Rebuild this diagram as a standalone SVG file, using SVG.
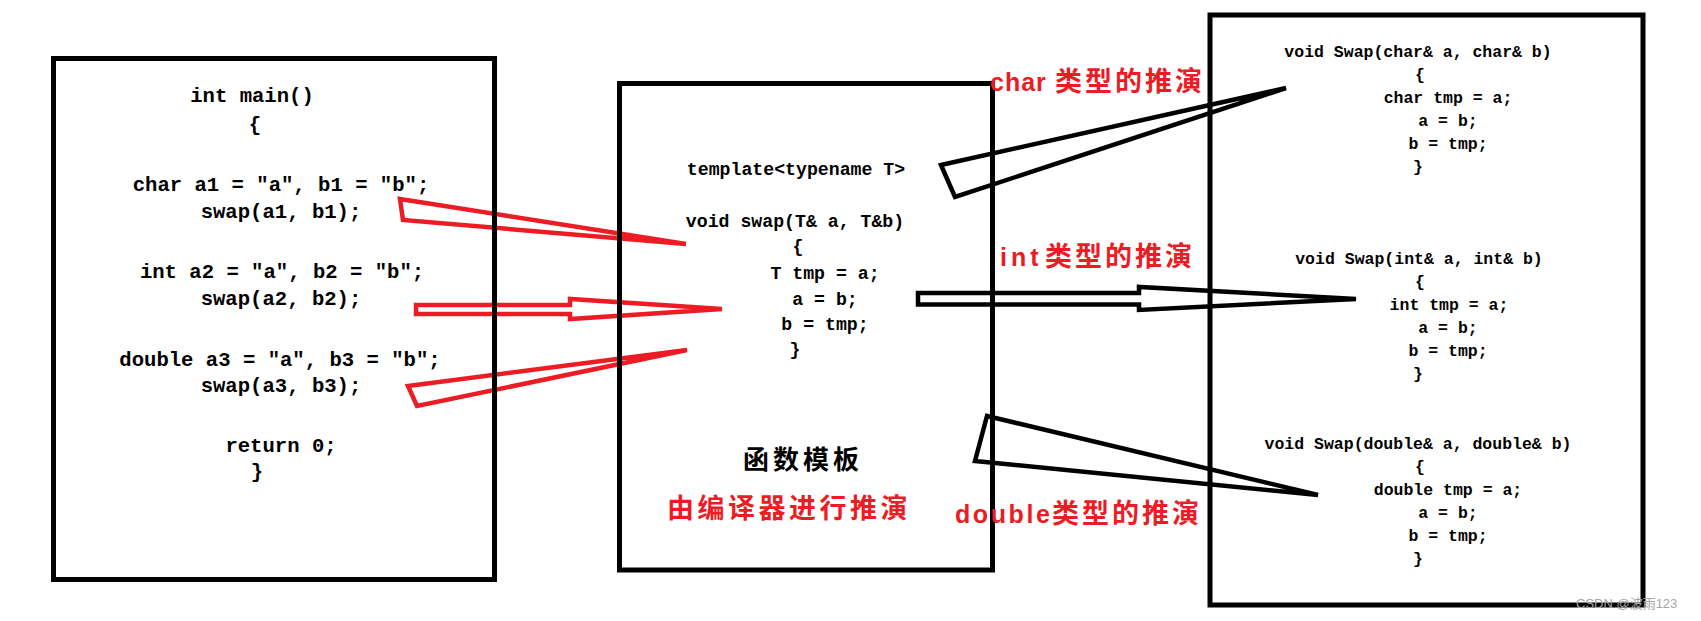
<svg xmlns="http://www.w3.org/2000/svg" width="1701" height="621" viewBox="0 0 1701 621">
<style>
.box{fill:none;stroke:#000;stroke-width:5}
.code{font-family:"Liberation Mono","DejaVu Sans Mono",monospace;font-weight:bold;fill:#000;text-anchor:middle}
.l{font-size:20.6px}
.m{font-size:18.2px}
.r{font-size:16.5px}
.red{fill:none;stroke:#ed1c24;stroke-width:4.5;stroke-linejoin:miter}
.blk{fill:none;stroke:#000;stroke-width:4.5;stroke-linejoin:miter}
.lab{font-family:"Liberation Sans","Noto Sans CJK SC",sans-serif;font-weight:bold;fill:#ed1c24}
.cjk{font-family:"Noto Sans CJK SC",sans-serif;font-weight:bold}
</style>
<rect width="1701" height="621" fill="#fff"/>
<g id="connectors">
<polygon class="red" points="400,199 686,244 403,220"/>
<polygon class="red" points="416,305 570,305 570,299 722,309 570,319 570,314 416,314"/>
<polygon class="red" points="408,386 687,350 417,406"/>
<polygon class="blk" points="941,165 1286,88 955,197"/>
<polygon class="blk" points="918,293 1139,293 1139,287 1356,299 1139,310 1139,304.5 918,304.5"/>
<polygon class="blk" points="987,416 1318,495 975,461"/>
</g>
<g id="main">
<rect class="box" x="53.5" y="58.5" width="441" height="521"/>
<text class="code l" x="252" y="102">int main()</text>
<text class="code l" x="255" y="131">{</text>
<text class="code l" x="281" y="191">char a1 = "a", b1 = "b";</text>
<text class="code l" x="281" y="218">swap(a1, b1);</text>
<text class="code l" x="282" y="278">int a2 = "a", b2 = "b";</text>
<text class="code l" x="281" y="305">swap(a2, b2);</text>
<text class="code l" x="280" y="366">double a3 = "a", b3 = "b";</text>
<text class="code l" x="281" y="392">swap(a3, b3);</text>
<text class="code l" x="281" y="452">return 0;</text>
<text class="code l" x="257" y="478">}</text>
</g>
<g id="template">
<rect class="box" x="619.5" y="83.5" width="373" height="486.5"/>
<text class="code m" x="796" y="175">template&lt;typename T&gt;</text>
<text class="code m" x="795" y="227">void swap(T&amp; a, T&amp;b)</text>
<text class="code m" x="798" y="252">{</text>
<text class="code m" x="825" y="279">T tmp = a;</text>
<text class="code m" x="825" y="305">a = b;</text>
<text class="code m" x="825" y="330">b = tmp;</text>
<text class="code m" x="795" y="355">}</text>
<text class="cjk" x="803" y="469" font-size="26" letter-spacing="4" text-anchor="middle" fill="#000">函数模板</text>
<text class="cjk" x="789" y="518" font-size="27" letter-spacing="3.5" text-anchor="middle" fill="#ed1c24">由编译器进行推演</text>
</g>
<g id="instances">
<rect class="box" x="1210" y="15" width="433" height="590"/>
<text class="code r" x="1418" y="57">void Swap(char&amp; a, char&amp; b)</text>
<text class="code r" x="1420" y="80">{</text>
<text class="code r" x="1448" y="103">char tmp = a;</text>
<text class="code r" x="1448" y="126">a = b;</text>
<text class="code r" x="1448" y="149">b = tmp;</text>
<text class="code r" x="1418" y="172">}</text>
<text class="code r" x="1419" y="264">void Swap(int&amp; a, int&amp; b)</text>
<text class="code r" x="1420" y="287">{</text>
<text class="code r" x="1449" y="310">int tmp = a;</text>
<text class="code r" x="1448" y="333">a = b;</text>
<text class="code r" x="1448" y="356">b = tmp;</text>
<text class="code r" x="1418" y="379">}</text>
<text class="code r" x="1418" y="449">void Swap(double&amp; a, double&amp; b)</text>
<text class="code r" x="1420" y="472">{</text>
<text class="code r" x="1448" y="495">double tmp = a;</text>
<text class="code r" x="1448" y="518">a = b;</text>
<text class="code r" x="1448" y="541">b = tmp;</text>
<text class="code r" x="1418" y="564">}</text>
</g>
<g id="labels">
<text class="lab" y="91"><tspan x="990" font-size="25" letter-spacing="1">char</tspan><tspan class="cjk" x="1055" font-size="27" letter-spacing="3">类型的推演</tspan></text>
<text class="lab" y="266"><tspan x="1000" font-size="25" letter-spacing="4">int</tspan><tspan class="cjk" x="1045" font-size="27" letter-spacing="3">类型的推演</tspan></text>
<text class="lab" y="523"><tspan x="955" font-size="25" letter-spacing="2.6">double</tspan><tspan class="cjk" x="1052" font-size="27" letter-spacing="3">类型的推演</tspan></text>
</g>
<text x="1576" y="608" font-family="'Liberation Sans','Noto Sans CJK SC',sans-serif" font-size="13" fill="#a6a6a6">CSDN @波雨123</text>
</svg>
